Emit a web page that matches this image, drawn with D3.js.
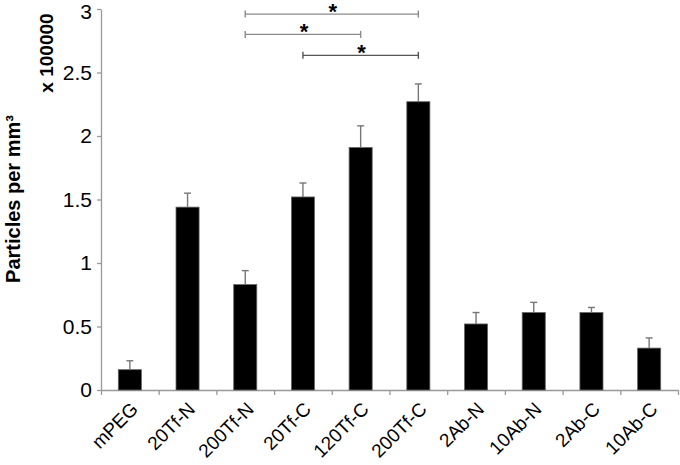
<!DOCTYPE html>
<html>
<head>
<meta charset="utf-8">
<script src="https://cdn.jsdelivr.net/npm/d3@7/dist/d3.min.js"></script>
<style>
    body { margin: 0; background: #fff; }
    #chart { position: relative; width: 680px; height: 465px; }
    svg { font-family: "Liberation Sans", Arial, sans-serif; position: absolute; left: 0; top: 0; }
    .axis path, .axis line { stroke: #999; stroke-width: 1.3; }
    .axis text { fill: #000; }
    .xl { position: absolute; width: 0; height: 0; }
    .xl span {
        position: absolute; right: 0; top: -11px;
        font: 19px "Liberation Sans", Arial, sans-serif;
        line-height: 22px; white-space: nowrap;
        transform-origin: 100% 50%;
        transform: rotate(-45deg);
    }
</style>
</head>
<body>
<div id="chart"></div>
<script>
const categories = ["mPEG", "20Tf-N", "200Tf-N", "20Tf-C", "120Tf-C", "200Tf-C", "2Ab-N", "10Ab-N", "2Ab-C", "10Ab-C"];
const means = [0.16, 1.44, 0.83, 1.52, 1.91, 2.27, 0.52, 0.61, 0.61, 0.33];
const errors = [0.07, 0.11, 0.11, 0.11, 0.17, 0.14, 0.09, 0.08, 0.04, 0.08];
const yTicks = [0, 0.5, 1, 1.5, 2, 2.5, 3];
// significance brackets: [from, to, level]
const brackets = [
    ["200Tf-N", "200Tf-C", 2.96],
    ["200Tf-N", "120Tf-C", 2.80],
    ["20Tf-C", "200Tf-C", 2.635]
];
const bracketColors = ["#8a8a8a", "#8a8a8a", "#555"];

const chart = {
    width: 680,
    height: 465,
    left: 101,
    right: 678,
    top: 9,
    bottom: 390,
    plot: function() {
        const _self = chart;

        const svg = d3.select("#chart")
            .append("svg")
            .attr("width", _self.width)
            .attr("height", _self.height);

        const x = d3.scaleBand()
            .domain(categories)
            .range([_self.left, _self.right])
            .paddingInner(0.6)
            .paddingOuter(0.3);

        const y = d3.scaleLinear()
            .domain([0, 3])
            .range([_self.bottom, _self.top]);

        const cx = (c) => x(c) + x.bandwidth() / 2;

        // Category boundary ticks on the x axis.
        const edges = d3.scaleLinear()
            .domain([0, categories.length])
            .range([_self.left, _self.right]);

        svg.append("g")
            .attr("class", "axis")
            .attr("transform", `translate(0,${_self.bottom})`)
            .call(d3.axisBottom(edges)
                .tickValues(d3.range(categories.length + 1))
                .tickSize(5)
                .tickSizeOuter(0)
                .tickFormat(""));

        svg.append("g")
            .attr("class", "axis")
            .attr("transform", `translate(${_self.left},0)`)
            .call(d3.axisLeft(y)
                .tickValues(yTicks)
                .tickSize(4)
                .tickSizeOuter(0)
                .tickPadding(5)
                .tickFormat((d) => String(d)))
            .selectAll("text")
            .attr("font-size", 21)
            .attr("dy", (d) => d === 3 ? "0.45em" : "0.32em");

        // Bars.
        svg.append("g")
            .selectAll("rect")
            .data(categories)
            .enter()
            .append("rect")
            .attr("x", (d) => x(d))
            .attr("y", (d, i) => y(means[i]))
            .attr("width", x.bandwidth())
            .attr("height", (d, i) => y(0) - y(means[i]))
            .style("fill", "#000")
            .style("stroke", "#666")
            .style("stroke-width", 0.8);

        // Error bars (upper half).
        const err = svg.append("g")
            .selectAll("g")
            .data(categories)
            .enter()
            .append("g")
            .style("stroke", "#777")
            .style("stroke-width", 1.4);

        err.append("line")
            .attr("x1", (d) => cx(d))
            .attr("x2", (d) => cx(d))
            .attr("y1", (d, i) => y(means[i]))
            .attr("y2", (d, i) => y(means[i] + errors[i]));

        err.append("line")
            .attr("x1", (d) => cx(d) - 3.5)
            .attr("x2", (d) => cx(d) + 3.5)
            .attr("y1", (d, i) => y(means[i] + errors[i]))
            .attr("y2", (d, i) => y(means[i] + errors[i]));

        // X labels: HTML spans turned 45 degrees, right end at the category.
        d3.select("#chart")
            .selectAll("div.xl")
            .data(categories)
            .enter()
            .append("div")
            .attr("class", "xl")
            .style("left", (d) => (cx(d) + 5) + "px")
            .style("top", (_self.bottom + 16) + "px")
            .append("span")
            .text((d) => d);

        // Significance brackets.
        const br = svg.append("g")
            .selectAll("g")
            .data(brackets)
            .enter()
            .append("g")
            .style("stroke", (d, i) => bracketColors[i])
            .style("stroke-width", 1.4);

        br.append("line")
            .attr("x1", (d) => cx(d[0]))
            .attr("x2", (d) => cx(d[1]))
            .attr("y1", (d) => y(d[2]))
            .attr("y2", (d) => y(d[2]));

        br.append("line")
            .attr("x1", (d) => cx(d[0]))
            .attr("x2", (d) => cx(d[0]))
            .attr("y1", (d) => y(d[2]) - 3.5)
            .attr("y2", (d) => y(d[2]) + 3.5);

        br.append("line")
            .attr("x1", (d) => cx(d[1]))
            .attr("x2", (d) => cx(d[1]))
            .attr("y1", (d) => y(d[2]) - 3.5)
            .attr("y2", (d) => y(d[2]) + 3.5);

        svg.append("g")
            .selectAll("text")
            .data(brackets)
            .enter()
            .append("text")
            .text("*")
            .attr("x", (d) => (cx(d[0]) + cx(d[1])) / 2 + 1)
            .attr("y", (d) => y(d[2]) + 5)
            .attr("text-anchor", "middle")
            .attr("font-size", 22)
            .attr("font-weight", "bold");

        // Y axis titles.
        svg.append("text")
            .attr("transform", "translate(20,199) rotate(-90)")
            .attr("text-anchor", "middle")
            .attr("font-size", 20)
            .attr("font-weight", "bold")
            .text("Particles per mm³");

        svg.append("text")
            .attr("transform", "translate(53,53) rotate(-90)")
            .attr("text-anchor", "middle")
            .attr("font-size", 19)
            .attr("font-weight", "bold")
            .text("x 100000");
    }
};

chart.plot();
</script>
</body>
</html>
